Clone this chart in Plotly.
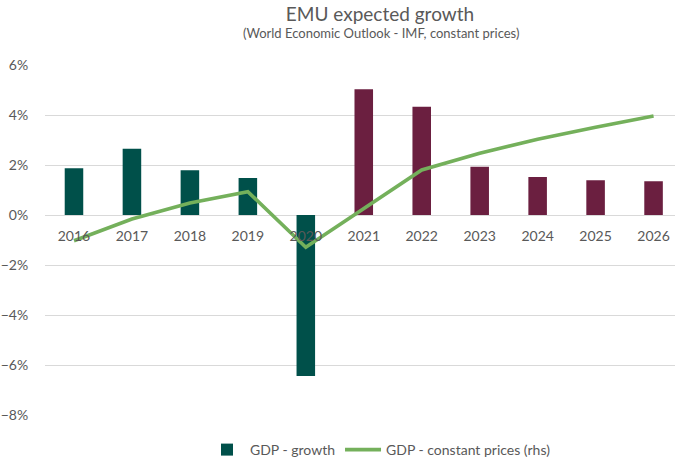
import plotly.graph_objects as go

# EMU real GDP: annual growth (lhs, %) and level at constant prices (rhs, EUR bn)
years = ["2016", "2017", "2018", "2019", "2020", "2021",
         "2022", "2023", "2024", "2025", "2026"]
gdp_growth = [1.87, 2.65, 1.79, 1.48, -6.44, 5.03, 4.33, 1.93, 1.52, 1.39, 1.35]
gdp_constant = [10741, 11020, 11226, 11371, 10656, 11155,
                11650, 11865, 12045, 12199, 12344]
last_outturn = "2020"

GREEN_DARK = "#00504A"
MAROON = "#6B1F40"
LINE_GREEN = "#74B05B"
TEXT = "#595959"
GRID = "#D9D9D9"
FONT = "Lato"

xpos = list(range(len(years)))
bar_colors = [GREEN_DARK if y <= last_outturn else MAROON for y in years]

fig = go.Figure()
fig.add_trace(go.Bar(
    x=xpos, y=gdp_growth, name="GDP - growth",
    marker=dict(color=bar_colors, line=dict(width=0)),
    width=0.32, yaxis="y",
))
fig.add_trace(go.Scatter(
    x=xpos, y=gdp_constant, name="GDP - constant prices (rhs)",
    mode="lines", line=dict(color=LINE_GREEN, width=3.6),
    yaxis="y2",
))

fig.update_layout(
    width=675, height=461,
    margin=dict(l=45, r=0, t=65, b=46, autoexpand=False),
    paper_bgcolor="white", plot_bgcolor="white",
    font=dict(family=FONT, color=TEXT, size=13),
    title=dict(
        text="EMU expected growth",
        x=380 / 675, xanchor="center", xref="container",
        y=1 - 14 / 461, yanchor="middle", yref="container",
        font=dict(size=19, color=TEXT, family=FONT),
    ),
    annotations=[dict(
        text="(World Economic Outlook - IMF, constant prices)",
        xref="paper", yref="paper",
        x=(381 - 45) / 630, y=1 + (65 - 33) / 350,
        xanchor="center", yanchor="middle", showarrow=False,
        font=dict(size=13, color=TEXT, family=FONT),
    )],
    xaxis=dict(
        range=[-0.5, 10.37],
        tickmode="array", tickvals=xpos, ticktext=years,
        showgrid=False, zeroline=False, showline=False,
        anchor="free", position=8 / 14,
        ticks="outside", ticklen=8, tickcolor="rgba(0,0,0,0)",
        tickfont=dict(size=14, color=TEXT),
        fixedrange=True,
    ),
    yaxis=dict(
        range=[-8, 6], dtick=2, ticksuffix="%",
        showgrid=True, gridcolor=GRID, gridwidth=1.3,
        zeroline=False, showline=False,
        ticks="outside", ticklen=13, tickcolor="rgba(0,0,0,0)",
        tickfont=dict(size=14, color=TEXT),
    ),
    yaxis2=dict(
        range=[8500, 13000], overlaying="y", side="right",
        visible=False, showgrid=False,
    ),
    bargap=0.68,
    legend=dict(
        orientation="h", x=380 / 675, xanchor="center", xref="container",
        y=1 - 450 / 461, yanchor="middle", yref="container",
        font=dict(size=14, color=TEXT), itemwidth=36,
        bgcolor="rgba(0,0,0,0)", traceorder="normal",
    ),
    showlegend=True,
)

fig.write_html("out.html")
